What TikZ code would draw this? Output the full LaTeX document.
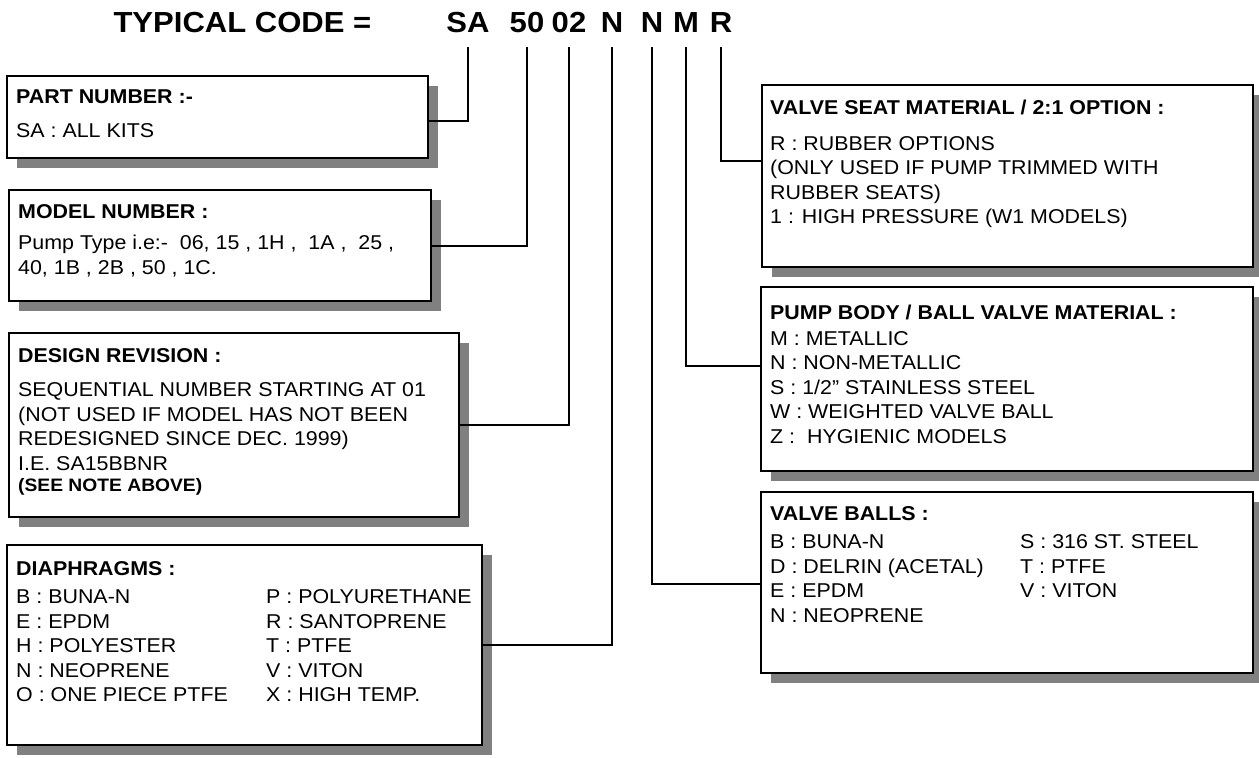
\documentclass[tikz,border=0pt]{standalone}
\usepackage{fontspec}
\setmainfont{Liberation Sans}[FakeStretch=1.07]
\usepackage{tikz}
\usetikzlibrary{
  positioning,
  shadows
}
\definecolor{shadowgray}{HTML}{808080}
\newcommand{\pair}[2]{\makebox[250pt][l]{#1}#2}

\begin{document}
\begin{tikzpicture}[x=1pt, y=-1pt,
  codebox/.style={draw, line width=2pt, fill=white, anchor=north west,
               inner sep=0pt,
               drop shadow={shadow xshift=10pt, shadow yshift=-10pt,
                            fill=shadowgray, opacity=1}},
  boxtxt/.style={align=left, inner sep=0pt,
               font=\fontsize{20}{24.5}\selectfont},
  lead/.style={line width=2pt},
  codechar/.style={anchor=base, font=\fontsize{29}{33}\selectfont\bfseries},
]
  \useasboundingbox (0,0) rectangle (1259,758);

  % typical code
  \node[codechar, anchor=base west] (title) at (110,32) {TYPICAL CODE =};
  \node[codechar] (sa) at (468,32) {SA};
  \node[codechar] (model) at (527,32) {50};
  \node[codechar] (rev) at (569,32) {02};
  \node[codechar] (diaph) at (612,32) {N};
  \node[codechar] (ball) at (652,32) {N};
  \node[codechar] (body) at (686,32) {M};
  \node[codechar] (seat) at (721,32) {R};

  % left column
  \node[codebox, minimum width=421, minimum height=82] (partbox) at (6,75) {};
  \node[boxtxt, below right=15pt and 10pt of partbox.north west]
    {\textbf{PART NUMBER :-}\\[9pt]SA : ALL KITS};

  \node[codebox, minimum width=422, minimum height=111] (modelbox) at (8,189) {};
  \node[boxtxt, below right=15pt and 10pt of modelbox.north west]
    {\textbf{MODEL NUMBER :}\\[7pt]Pump Type i.e:-\ \ 06, 15 , 1H ,\ \ 1A ,\ \ 25 ,\\
     40, 1B , 2B , 50 , 1C.};

  \node[codebox, minimum width=450, minimum height=184] (revbox) at (8,332) {};
  \node[boxtxt, below right=16pt and 10pt of revbox.north west]
    {\textbf{DESIGN REVISION :}\\[10pt]SEQUENTIAL NUMBER STARTING AT 01\\
     (NOT USED IF MODEL HAS NOT BEEN\\ REDESIGNED SINCE DEC. 1999)\\
     I.E. SA15BBNR\\[-3pt]
     {\fontsize{18}{21}\selectfont\bfseries (SEE NOTE ABOVE)}};

  \node[codebox, minimum width=475, minimum height=200] (diaphbox) at (6,544) {};
  \node[boxtxt, below right=17pt and 10pt of diaphbox.north west]
    {\textbf{DIAPHRAGMS :}\\[4pt]
     \pair{B : BUNA-N}{P : POLYURETHANE}\\
     \pair{E : EPDM}{R : SANTOPRENE}\\
     \pair{H : POLYESTER}{T : PTFE}\\
     \pair{N : NEOPRENE}{V : VITON}\\
     \pair{O : ONE PIECE PTFE}{X : HIGH TEMP.}};

  % right column
  \node[codebox, minimum width=491, minimum height=182] (seatbox) at (761,84) {};
  \node[boxtxt, below right=16pt and 9pt of seatbox.north west]
    {\textbf{VALVE SEAT MATERIAL / 2:1 OPTION :}\\[11pt]R : RUBBER OPTIONS\\
     (ONLY USED IF PUMP TRIMMED WITH\\ RUBBER SEATS)\\
     1 : HIGH PRESSURE (W1 MODELS)};

  \node[codebox, minimum width=492, minimum height=184] (bodybox) at (760,286) {};
  \node[boxtxt, below right=19pt and 10pt of bodybox.north west]
    {\textbf{PUMP BODY / BALL VALVE MATERIAL :}\\[1pt]M : METALLIC\\
     N : NON-METALLIC\\ S : 1/2” STAINLESS STEEL\\
     W : WEIGHTED VALVE BALL\\ Z :\ \ HYGIENIC MODELS};

  \node[codebox, minimum width=492, minimum height=181] (ballbox) at (760,491) {};
  \node[boxtxt, below right=15pt and 10pt of ballbox.north west]
    {\textbf{VALVE BALLS :}\\[4pt]
     \pair{B : BUNA-N}{S : 316 ST. STEEL}\\
     \pair{D : DELRIN (ACETAL)}{T : PTFE}\\
     \pair{E : EPDM}{V : VITON}\\
     N : NEOPRENE};

  % leaders
  \draw[lead] ([yshift=-15pt]sa.base) |- ([yshift=-4pt]partbox.east);
  \draw[lead] ([yshift=-15pt]model.base) |- (modelbox.east);
  \draw[lead] ([yshift=-15pt]rev.base) |- (revbox.east);
  \draw[lead] ([yshift=-15pt]diaph.base) |- (diaphbox.east);
  \draw[lead] ([yshift=-15pt]ball.base) |- ([yshift=-1pt]ballbox.west);
  \draw[lead] ([yshift=-15pt]body.base) |- ([yshift=13pt]bodybox.west);
  \draw[lead] ([yshift=-15pt]seat.base) |- ([yshift=15pt]seatbox.west);
\end{tikzpicture}
\end{document}
